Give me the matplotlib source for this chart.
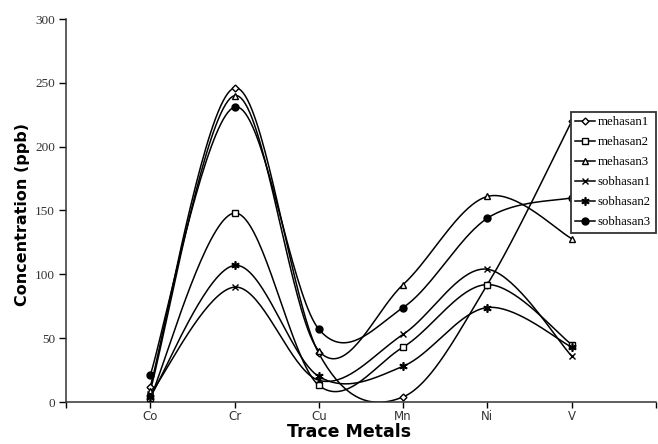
import numpy as np
import matplotlib
matplotlib.use("Agg")
import matplotlib.pyplot as plt
from matplotlib.lines import Line2D

metals = ["Co", "Cr", "Cu", "Mn", "Ni", "V"]
series_names = ["mehasan1", "mehasan2", "mehasan3", "sobhasan1", "sobhasan2", "sobhasan3"]
mehasan1 = [12, 246, 38, 4, 92, 220]
mehasan2 = [3, 148, 13, 43, 92, 45]
mehasan3 = [9, 240, 40, 92, 161, 128]
sobhasan1 = [6, 90, 17, 53, 104, 36]
sobhasan2 = [4, 107, 20, 28, 74, 43]
sobhasan3 = [21, 231, 57, 74, 144, 160]
yticks = [0, 50, 100, 150, 200, 250, 300]

series = [mehasan1, mehasan2, mehasan3, sobhasan1, sobhasan2, sobhasan3]
markers = [dict(marker="D", ms=3.5, mfc="white"),
           dict(marker="s", ms=5, mfc="white"),
           dict(marker="^", ms=5, mfc="white"),
           dict(marker="x", ms=5, mew=1.0),
           dict(marker=(6, 2, 0), ms=6, mew=1.2),
           dict(marker="o", ms=5, mfc="black")]


def smooth(xs, ys, n=40):
    """Excel-like smoothed line: Bezier segments with Catmull-Rom tangents."""
    P = np.column_stack([xs, ys]).astype(float)
    m = len(P)
    out = []
    for i in range(m - 1):
        p0 = P[i - 1] if i > 0 else P[i]
        p1 = P[i]
        p2 = P[i + 1]
        p3 = P[i + 2] if i + 2 < m else P[i + 1]
        c1 = p1 + (p2 - p0) / 6.0
        c2 = p2 - (p3 - p1) / 6.0
        t = np.linspace(0, 1, n)[:, None]
        seg = ((1 - t) ** 3) * p1 + 3 * ((1 - t) ** 2) * t * c1 + 3 * (1 - t) * t ** 2 * c2 + t ** 3 * p2
        out.append(seg if i == 0 else seg[1:])
    out = np.vstack(out)
    return out[:, 0], out[:, 1]


fig = plt.figure(figsize=(6.58, 4.44), dpi=100)
ax = fig.add_axes([66 / 658, 1 - 402 / 444, 590 / 658, 383 / 444])

xpos = np.arange(1, len(metals) + 1)
handles = []
for name, ys, mk in zip(series_names, series, markers):
    sx, sy = smooth(xpos, ys)
    ax.plot(sx, sy, color="black", lw=1.1, zorder=2)
    ax.plot(xpos, ys, ls="none", color="black", mec="black", zorder=3, clip_on=False, **mk)
    handles.append(Line2D([], [], color="black", lw=1.1, mec="black", **mk))

ax.set_xlim(0, 7)
ax.set_ylim(0, 300)
ax.set_yticks(yticks)
ax.set_yticklabels([str(v) for v in yticks], fontfamily="Liberation Serif", fontsize=9.5, color="#333333")
ax.set_xticks(np.arange(0, 8))
ax.set_xticklabels([""] + metals + [""], fontfamily="DejaVu Sans", fontsize=8.5, color="#333333")
ax.tick_params(axis="y", direction="out", length=5, width=1, pad=3)
ax.tick_params(axis="x", direction="out", length=4, width=1, pad=1.5)
for s in ["top", "right"]:
    ax.spines[s].set_visible(False)
for s in ["left", "bottom"]:
    ax.spines[s].set_linewidth(1.1)
    ax.spines[s].set_color("#333333")

ax.set_ylabel("Concentration (ppb)", fontfamily="DejaVu Sans", fontweight="bold", fontsize=11.5)
ax.yaxis.set_label_coords(-36 / 590, 0.49)
ax.set_xlabel("Trace Metals", fontfamily="DejaVu Sans", fontweight="bold", fontsize=12.5)
ax.xaxis.label.set_va("center")
ax.xaxis.set_label_coords(0.48, -30 / 383)

leg = fig.legend(handles, series_names, loc="upper left",
                 bbox_to_anchor=(571 / 658, 1 - 112 / 444),
                 prop={"family": "Liberation Serif", "size": 9.2},
                 frameon=True, fancybox=False, framealpha=1, edgecolor="#333333",
                 handlelength=1.5, handletextpad=0.25, labelspacing=0.62,
                 borderpad=0.35, borderaxespad=0)
leg.get_frame().set_linewidth(1.3)
leg.set_zorder(10)

fig.savefig("out.png", dpi=100)
